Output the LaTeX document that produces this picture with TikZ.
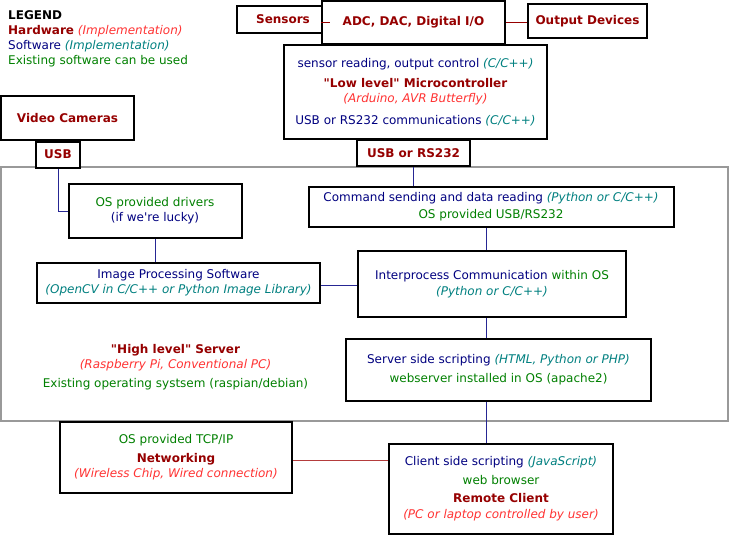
\documentclass[tikz,border=0pt]{standalone}
\usepackage{fontspec}
\setmainfont{DejaVu Sans}
\usepackage{tikz}

\definecolor{hw}{RGB}{150,0,0}
\definecolor{hwimpl}{RGB}{255,51,51}
\definecolor{sw}{RGB}{0,0,128}
\definecolor{swimpl}{RGB}{0,128,128}
\definecolor{exist}{RGB}{0,128,0}
\definecolor{netred}{RGB}{180,60,60}

\newcommand{\hwname}[1]{\textcolor{hw}{\textbf{#1}}}
\newcommand{\hwimp}[1]{\textcolor{hwimpl}{\textit{#1}}}
\newcommand{\swname}[1]{\textcolor{sw}{#1}}
\newcommand{\swimp}[1]{\textcolor{swimpl}{\textit{#1}}}
\newcommand{\existing}[1]{\textcolor{exist}{#1}}

\begin{document}
\begin{tikzpicture}[x=1pt, y=-1pt,
    font=\fontsize{12}{15}\selectfont,
    box/.style={draw=black, line width=2pt, fill=white, inner sep=0pt, align=center},
    link/.style={sw!85, line width=1pt},
    hwlink/.style={hw, line width=1pt}]
    \useasboundingbox (0,0) rectangle (730,535);
    \node[box, draw=black!40, minimum width=727pt, minimum height=254pt] (server) at (364.5,293.5) {};
    \coordinate (spine) at (486,0);

    \node[anchor=north west, inner sep=0pt, align=left] (legend) at (8,10)
        {\textbf{LEGEND}\\ \hwname{Hardware} \hwimp{(Implementation)}\\
         \swname{Software} \swimp{(Implementation)}\\ \existing{Existing software can be used}};

    \node[box, minimum width=92pt, minimum height=27pt] (sensors) at (283,19.5) {\hwname{Sensors}};
    \node[box, minimum width=183pt, minimum height=43pt] (adc) at (413.5,22.5) {\hwname{ADC, DAC, Digital I/O}};
    \node[box, minimum width=119pt, minimum height=34pt] (output) at (587.5,21) {\hwname{Output Devices}};
    \node[box, minimum width=263pt, minimum height=94pt] (micro) at (415.5,92)
        {\swname{sensor reading, output control} \swimp{(C/C++)}\\[5pt]
         \hwname{\textquotedbl Low level\textquotedbl\ Microcontroller}\\ \hwimp{(Arduino, AVR Butterfly)}\\[7pt]
         \swname{USB or RS232 communications} \swimp{(C/C++)}};
    \node[box, minimum width=113pt, minimum height=26pt] (usbrs) at (413.5,153) {\hwname{USB or RS232}};

    \node[box, minimum width=133pt, minimum height=44pt] (cameras) at (67.5,118) {\hwname{Video Cameras}};
    \node[box, minimum width=44pt, minimum height=26pt] (usb) at (58,154.5) {\hwname{USB}};
    \node[box, minimum width=173pt, minimum height=54pt] (drivers) at (155,211)
        {\existing{OS provided drivers}\\ \swname{(if we\textquotesingle re lucky)}};
    \node[box, minimum width=283pt, minimum height=40pt] (imgproc) at (178.5,282.5)
        {\swname{Image Processing Software}\\ \swimp{(OpenCV in C/C++ or Python Image Library)}};

    \node[box, minimum width=365pt, minimum height=40pt] (command) at (491,207)
        {\swname{Command sending and data reading} \swimp{(Python or C/C++)}\\[2pt]
         \existing{OS provided USB/RS232}};
    \node[box, minimum width=268pt, minimum height=66pt] (ipc) at (492,284)
        {\swname{Interprocess Communication} \existing{within OS}\\[1pt] \swimp{(Python or C/C++)}};
    \node[box, minimum width=305pt, minimum height=62pt] (serverside) at (498.5,370)
        {\swname{Server side scripting} \swimp{(HTML, Python or PHP)}\\[4pt]
         \existing{webserver installed in OS (apache2)}};

    \node[align=center, inner sep=0pt] (serverlabel) at (175.5,367)
        {\hwname{\textquotedbl High level\textquotedbl\ Server}\\ \hwimp{(Raspberry Pi, Conventional PC)}\\[4pt]
         \existing{Existing operating systsem (raspian/debian)}};

    \node[box, minimum width=232pt, minimum height=71pt] (networking) at (176,457)
        {\existing{OS provided TCP/IP}\\[4pt] \hwname{Networking}\\ \hwimp{(Wireless Chip, Wired connection)}};
    \node[box, minimum width=224pt, minimum height=90pt] (client) at (501,489)
        {\swname{Client side scripting} \swimp{(JavaScript)}\\[4pt] \existing{web browser}\\[3pt]
         \hwname{Remote Client}\\[1pt] \hwimp{(PC or laptop controlled by user)}};

    \draw[hwlink] (adc.west) -- (adc.west -| sensors.east);
    \draw[hwlink] (adc.east) -- (adc.east -| output.west);
    \draw[link] (usb.south) |- (drivers.west);
    \draw[link] (drivers.south) -- (drivers.south |- imgproc.north);
    \draw[link] ([yshift=-3pt]imgproc.east) -- ([yshift=-3pt]imgproc.east -| ipc.west);
    \draw[link] (usbrs.south) -- (usbrs.south |- command.north);
    \draw[link] (command.south -| spine) -- (ipc.north -| spine);
    \draw[link] (ipc.south -| spine) -- (serverside.north -| spine);
    \draw[link] (serverside.south -| spine) -- (client.north -| spine);
    \draw[hwlink, netred] ([yshift=-3pt]networking.east) -- ([yshift=-3pt]networking.east -| client.west);
\end{tikzpicture}
\end{document}
